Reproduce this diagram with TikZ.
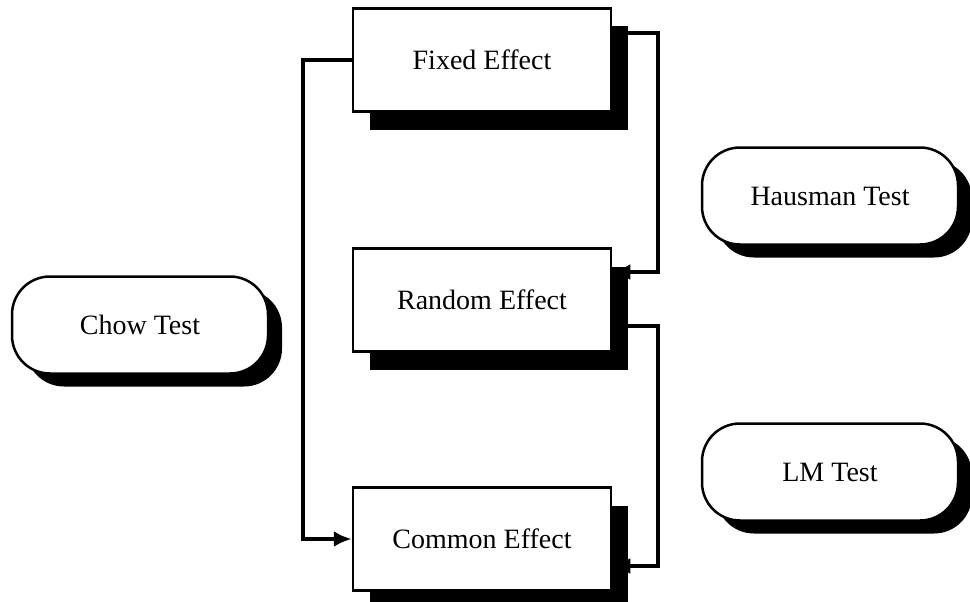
\documentclass[tikz,border=0pt]{standalone}
\usepackage{fontspec}
\setmainfont{Liberation Serif}
\usetikzlibrary{shadows,backgrounds,calc,arrows.meta}
\tikzset{
  effbox/.style={draw=black, line width=2.5pt, fill=white, minimum width=258pt, minimum height=103pt,
    font=\fontsize{28}{32}\selectfont,
    drop shadow={shadow xshift=17pt, shadow yshift=-18pt, fill=black, opacity=1}},
  testpill/.style={draw=black, line width=2.5pt, fill=white, rounded corners=38pt, minimum width=256pt, minimum height=97pt,
    font=\fontsize{28}{32}\selectfont,
    drop shadow={shadow xshift=14pt, shadow yshift=-13pt, fill=black, opacity=1}},
  conn/.style={draw=black, line width=4pt},
  arr/.style={conn, -{Latex[length=18pt,width=16pt]}}
}
\begin{document}
\begin{tikzpicture}[x=1pt,y=-1pt]
\useasboundingbox (0,0) rectangle (970,602);
\node[effbox] (fe) at (482,60) {Fixed Effect};
\node[effbox] (re) at (482,300) {Random Effect};
\node[effbox] (ce) at (482,539) {Common Effect};
\node[testpill] (chow) at (140,325) {Chow Test};
\node[testpill] (haus) at (830,196) {Hausman Test};
\node[testpill] (lm) at (830,472) {LM Test};
\begin{scope}[on background layer]
\draw[arr] (fe.west) -- ++(-49,0) |- (ce.west);
\draw[arr] ($(fe.east)+(0,-27)$) -- ++(46,0) |- ($(re.east)+(0,-28)$);
\draw[arr] ($(re.east)+(0,26)$) -- ++(46,0) |- ($(ce.east)+(0,27)$);
\end{scope}
\end{tikzpicture}
\end{document}
